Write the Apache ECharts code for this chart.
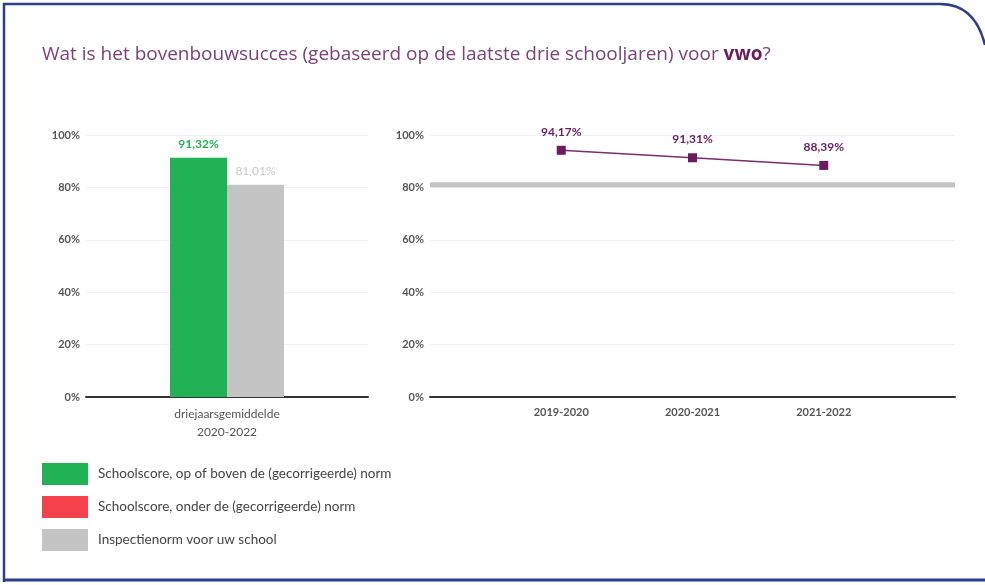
<!DOCTYPE html>
<html>
<head>
<meta charset="utf-8">
<script src="https://cdn.jsdelivr.net/npm/echarts@6/dist/echarts.min.js"></script>
<style>
html,body{margin:0;padding:0;background:#fff;}
#c{width:985px;height:585px;}
</style>
</head>
<body>
<div id="c"></div>
<script>
// ---- data ----
var barCategories = ['driejaarsgemiddelde\n2020-2022'];
var schoolScore3yr = [91.32];
var normScore3yr = [81.01];
var yearCategories = ['', '2019-2020', '2020-2021', '2021-2022', ''];
var yearlyScores = [null, 94.17, 91.31, 88.39, null];
var normLine = [81.01, 81.01, 81.01, 81.01, 81.01];
var yTicks = [0, 20, 40, 60, 80, 100];
var legendNames = [
  'Schoolscore, op of boven de (gecorrigeerde) norm',
  'Schoolscore, onder de (gecorrigeerde) norm',
  'Inspectienorm voor uw school'
];

var GREEN = '#21b256', RED = '#f4414b', GREY = '#c4c4c4', PURPLE = '#6b1b5e';
function pct(v){ return v.toFixed(2).replace('.', ',') + '%'; }

var chart = echarts.init(document.getElementById('c'), null, {renderer:'canvas'});

function yAxis(gridIndex){
  return {
    type:'value', gridIndex:gridIndex, min:0, max:100, interval:20,
    axisLine:{show:false}, axisTick:{show:false},
    axisLabel:{formatter:function(v){return v+'%';}, color:'#555', fontFamily:'Lato', fontWeight:'bold', fontSize:11, margin:6},
    splitLine:{lineStyle:{color:'#f0f0f0', width:1}}
  };
}

chart.setOption({
  animation:false,
  textStyle:{fontFamily:'Lato'},
  graphic:[
    {type:'polyline', shape:{points:[[4,582],[4,4],[940,4]]}, style:{fill:null, stroke:'#2e3d8c', lineWidth:2.5}},
    {type:'bezierCurve', shape:{x1:940,y1:4,cpx1:975,cpy1:4,x2:985,y2:45}, style:{fill:null, stroke:'#2e3d8c', lineWidth:2.5}},
    {type:'line', shape:{x1:4,y1:580,x2:985,y2:580}, style:{stroke:'#2e3d8c', lineWidth:3}},
    {type:'text', left:42, top:45, style:{rich:{a:{fill:'#7b3f7a', fontSize:19, fontFamily:'Open Sans'}, b:{fill:'#6b1b5e', fontSize:19, fontWeight:'bold', fontFamily:'Open Sans'}}, text:'{a|Wat is het bovenbouwsucces (gebaseerd op de laatste drie schooljaren) voor }{b|vwo}{a|?}'}}
  ],
  legend:{
    data:legendNames, orient:'vertical', left:42, top:463, padding:0, itemWidth:46, itemHeight:22, itemGap:11,
    icon:'rect', selectedMode:false,
    textStyle:{color:'#444', fontSize:13.5, fontFamily:'Lato', padding:[0,0,0,5]}
  },
  grid:[
    {left:86, right:985-368, top:135, bottom:188},
    {left:430, right:30, top:135, bottom:188}
  ],
  xAxis:[
    {type:'category', gridIndex:0, data:barCategories,
     axisLine:{lineStyle:{color:'#333', width:2}}, axisTick:{show:false},
     axisLabel:{color:'#555', fontSize:12, lineHeight:18, margin:8, fontFamily:'Lato'}},
    {type:'category', gridIndex:1, data:yearCategories, boundaryGap:false,
     axisLine:{lineStyle:{color:'#333', width:2}}, axisTick:{show:false},
     axisLabel:{color:'#555', fontSize:11, fontWeight:'bold', margin:10, fontFamily:'Lato'}}
  ],
  yAxis:[yAxis(0), yAxis(1)],
  series:[
    {name:legendNames[0], type:'bar', xAxisIndex:0, yAxisIndex:0, data:schoolScore3yr,
     barWidth:57, barGap:'0%', itemStyle:{color:GREEN},
     label:{show:true, position:'top', distance:8, formatter:function(p){return pct(p.value);}, color:GREEN, fontWeight:'bold', fontSize:12}},
    {name:legendNames[1], type:'bar', xAxisIndex:0, yAxisIndex:0, data:[], itemStyle:{color:RED}, barWidth:0},
    {name:legendNames[2], type:'bar', xAxisIndex:0, yAxisIndex:0, data:normScore3yr,
     barWidth:57, barGap:'0%', itemStyle:{color:GREY},
     label:{show:true, position:'top', distance:8, formatter:function(p){return pct(p.value);}, color:'#c8c8c8', fontSize:12}},
    {name:'norm', type:'line', xAxisIndex:1, yAxisIndex:1, data:normLine, symbol:'none',
     lineStyle:{color:GREY, width:5}, silent:true, z:1},
    {name:'trend', type:'line', xAxisIndex:1, yAxisIndex:1, data:yearlyScores, symbol:'rect', symbolSize:9,
     itemStyle:{color:PURPLE}, lineStyle:{color:'#7a2f6c', width:1.5}, z:3,
     label:{show:true, position:'top', distance:8, formatter:function(p){return pct(p.value);}, color:'#6b1b5e', fontWeight:'bold', fontSize:12}}
  ]
});
</script>
</body>
</html>
